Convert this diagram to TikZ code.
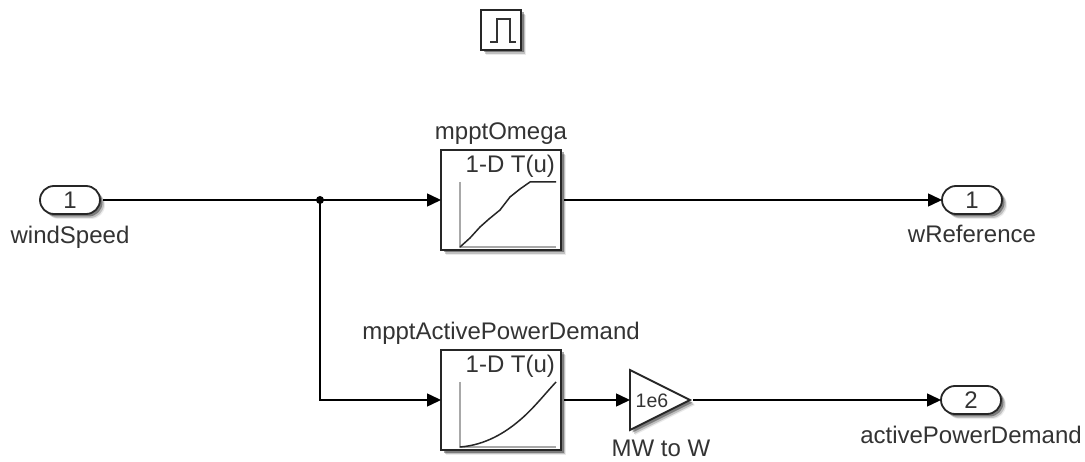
\documentclass[tikz,border=0pt]{standalone}
\usepackage{fontspec}
\setmainfont{Liberation Sans}
\usetikzlibrary{calc,positioning,arrows.meta,shadows,shapes.geometric,shapes.misc}
\definecolor{LabelGray}{HTML}{333333}
\definecolor{AxisGray}{HTML}{A8A8A8}
\tikzset{
  softshadow/.style={
    drop shadow={shadow xshift=5pt,shadow yshift=-5pt,opacity=0.08,fill=black},
    drop shadow={shadow xshift=4pt,shadow yshift=-4pt,opacity=0.18,fill=black},
    drop shadow={shadow xshift=2.5pt,shadow yshift=-2.5pt,opacity=0.35,fill=black}
  },
  blockbox/.style={draw=black!85,line width=1.8pt,fill=white,outer sep=0pt,softshadow},
  tablebox/.style={blockbox,minimum width=120pt,minimum height=100pt},
  portbox/.style={blockbox,rounded rectangle,minimum width=60pt,minimum height=28pt,inner sep=0pt,
    font=\fontsize{24}{26}\selectfont,text=LabelGray},
  caption/.style={inner sep=0pt,outer sep=0pt,text=LabelGray,font=\fontsize{24}{26}\selectfont,
    text height=17pt,text depth=5pt},
  wire/.style={line width=1.5pt,draw=black,shorten <=3pt},
  flow/.style={wire,-{Triangle[length=14pt,width=13pt]}},
  sparkaxis/.style={line width=1.2pt,draw=AxisGray},
  sparkline/.style={line width=1.5pt,draw=black!85}
}
\begin{document}
\begin{tikzpicture}[x=1pt,y=-1pt]
    \useasboundingbox[fill=white] (0,0) rectangle (1085,462);

    % ports and blocks
    \node[portbox] (inOne) at (70,200) {1};
    \node[tablebox,right=341pt of inOne] (tableOmega) {};
    \node[portbox,right=381pt of tableOmega] (outOne) {1};
    \node[tablebox,below=100pt of tableOmega] (tableDemand) {};
    \node[
      blockbox,
      isosceles triangle,
      isosceles triangle apex angle=53.13,
      isosceles triangle stretches,
      minimum width=60pt,
      minimum height=60pt,
      inner sep=0pt,
      right=69pt of tableDemand
    ] (gainBlock) {};
    \node[portbox,right=251pt of gainBlock] (outTwo) {2};
    \node[blockbox,minimum size=40pt,above=100pt of tableOmega] (pulseBlock) {};
    \node[fill=black,circle,inner sep=0pt,minimum size=8pt] (branch) at (320,200) {};

    % names
    \node[caption,below=13pt of inOne] (windLabel) {windSpeed};
    \node[caption,below=12pt of outOne] (wRefLabel) {wReference};
    \node[caption,below=12pt of outTwo] (demandLabel) {activePowerDemand};
    \node[caption,above=5pt of tableOmega] (omegaLabel) {mpptOmega};
    \node[caption,above=5pt of tableDemand] (tableDemandLabel) {mpptActivePowerDemand};
    \node[caption] (gainLabel) at (661,450) {MW to W};

    % block texts
    \node[caption,anchor=north east] (omegaText) at ($(tableOmega.north east)+(-6,6)$) {1-D T(u)};
    \node[caption,anchor=north east] (demandText) at ($(tableDemand.north east)+(-6,6)$) {1-D T(u)};
    \node[caption,font=\fontsize{19.5}{22}\selectfont] (gainText) at (652,401) {1e6};

    % connectors
    \draw[wire] (inOne.east) -- (branch.center);
    \draw[flow,shorten <=0pt] (branch.center) -- (tableOmega.west);
    \draw[flow,shorten <=0pt] (branch.center) |- (tableDemand.west);
    \draw[flow] (tableOmega.east) -- (outOne.west);
    \draw[flow] (tableDemand.east) -- (gainBlock.west);
    \draw[flow] (gainBlock.apex) -- (outTwo.west);

    % small curves
    \begin{scope}[shift={(tableOmega.north west)}]
      \draw[sparkaxis] (19,32) -- (19,97) -- (115,97);
      \draw[sparkline] (19,97) -- (29,88) -- (39,77) -- (48,69) -- (59,60) -- (69,47)
        -- (79,39) -- (89,32) -- (115,32);
    \end{scope}
    \begin{scope}[shift={(tableDemand.north west)}]
      \draw[sparkaxis] (19,32) -- (19,97) -- (115,97);
      \draw[sparkline] (19,97) .. controls (45,95) and (65,82) .. (79,70) .. controls (92,59) and (103,45) .. (115,32);
    \end{scope}
    \begin{scope}[shift={(pulseBlock.north west)}]
      \draw[line width=1.5pt,draw=black!80] (9,32) -- (16,32) -- (16,9) -- (29,9) -- (29,32) -- (35,32);
    \end{scope}
\end{tikzpicture}
\end{document}
